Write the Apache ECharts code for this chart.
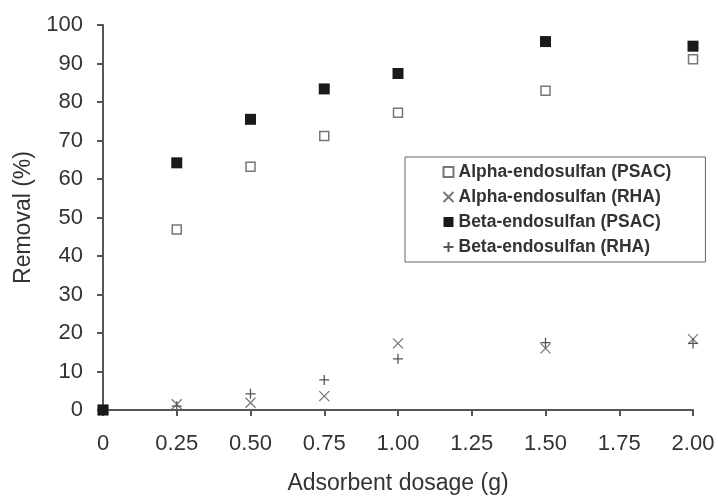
<!DOCTYPE html>
<html>
<head>
<meta charset="utf-8">
<script src="https://cdn.jsdelivr.net/npm/echarts@6/dist/echarts.min.js"></script>
<style>
  html, body { margin: 0; padding: 0; background: #fff; }
  #chart { width: 718px; height: 496px; }
</style>
</head>
<body>
<div id="chart"></div>
<script>
// adsorbent dosage (g)
var dosage = [0, 0.25, 0.5, 0.75, 1.0, 1.5, 2.0];
// removal (%)
var alphaPSAC = [0, 46.9, 63.2, 71.2, 77.2, 82.9, 91.1];
var alphaRHA = [0, 1.5, 1.9, 3.6, 17.3, 16.0, 18.4];
var betaPSAC = [0, 64.2, 75.5, 83.4, 87.4, 95.7, 94.5];
var betaRHA = [0, 1.0, 4.2, 7.8, 13.3, 17.5, 17.3];
var seriesNames = ['Alpha-endosulfan (PSAC)', 'Alpha-endosulfan (RHA)', 'Beta-endosulfan (PSAC)', 'Beta-endosulfan (RHA)'];

function pairs(ys) {
  var out = [];
  for (var i = 0; i < dosage.length; i++) {
    out.push([dosage[i], ys[i]]);
  }
  return out;
}

var textColor = '#333';
var font = 'Liberation Sans, Arial, sans-serif';

var myechart = echarts.init(document.getElementById('chart'));
var config = {
  backgroundColor: '#fff',
  animation: false,
  textStyle: { fontFamily: font },
  grid: { left: 103, right: 25, top: 25, bottom: 86, outerBoundsMode: 'none' },
  legend: {
    orient: 'vertical',
    left: 405,
    top: 157,
    padding: [6, 34, 6, 36],
    itemGap: 7,
    itemWidth: 10,
    itemHeight: 10,
    borderColor: '#666',
    borderWidth: 1,
    data: seriesNames,
    textStyle: { color: textColor, fontSize: 17.5, fontWeight: 'bold', lineHeight: 18, fontFamily: font }
  },
  xAxis: {
    type: 'value',
    min: 0,
    max: 2,
    interval: 0.25,
    name: 'Adsorbent dosage (g)',
    nameLocation: 'middle',
    nameGap: 62,
    nameTextStyle: { color: textColor, fontSize: 23 },
    splitLine: { show: false },
    axisLine: { lineStyle: { color: '#555', width: 2 } },
    axisTick: { show: true, length: 6, lineStyle: { color: '#555', width: 2 } },
    axisLabel: {
      color: textColor,
      fontSize: 22,
      margin: 23,
      formatter: function (v) { return v === 0 ? '0' : v.toFixed(2); }
    }
  },
  yAxis: {
    type: 'value',
    min: 0,
    max: 100,
    interval: 10,
    name: 'Removal (%)',
    nameLocation: 'middle',
    nameGap: 68,
    nameTextStyle: { color: textColor, fontSize: 23 },
    splitLine: { show: false },
    axisLine: { show: true, lineStyle: { color: '#555', width: 2 } },
    axisTick: { show: true, length: 6, lineStyle: { color: '#555', width: 2 } },
    axisLabel: { color: textColor, fontSize: 22, margin: 20 }
  },
  series: [
    {
      name: seriesNames[0],
      type: 'scatter',
      data: pairs(alphaPSAC),
      symbol: 'rect',
      symbolSize: 9,
      itemStyle: { color: '#fff', borderColor: '#777', borderWidth: 1.5, opacity: 1 }
    },
    {
      name: seriesNames[1],
      type: 'scatter',
      data: pairs(alphaRHA),
      symbol: 'path://M0,0L10,10M10,0L0,10',
      symbolSize: 10,
      itemStyle: { color: 'none', borderColor: '#777', borderWidth: 1.3, opacity: 1 }
    },
    {
      name: seriesNames[2],
      type: 'scatter',
      data: pairs(betaPSAC),
      symbol: 'rect',
      symbolSize: 11,
      z: 5,
      itemStyle: { color: '#1a1a1a', opacity: 1 }
    },
    {
      name: seriesNames[3],
      type: 'scatter',
      data: pairs(betaRHA),
      symbol: 'path://M5,0L5,10M0,5L10,5',
      symbolSize: 10,
      itemStyle: { color: 'none', borderColor: '#555', borderWidth: 1.3, opacity: 1 }
    }
  ]
};
myechart.setOption(config);
</script>
</body>
</html>
